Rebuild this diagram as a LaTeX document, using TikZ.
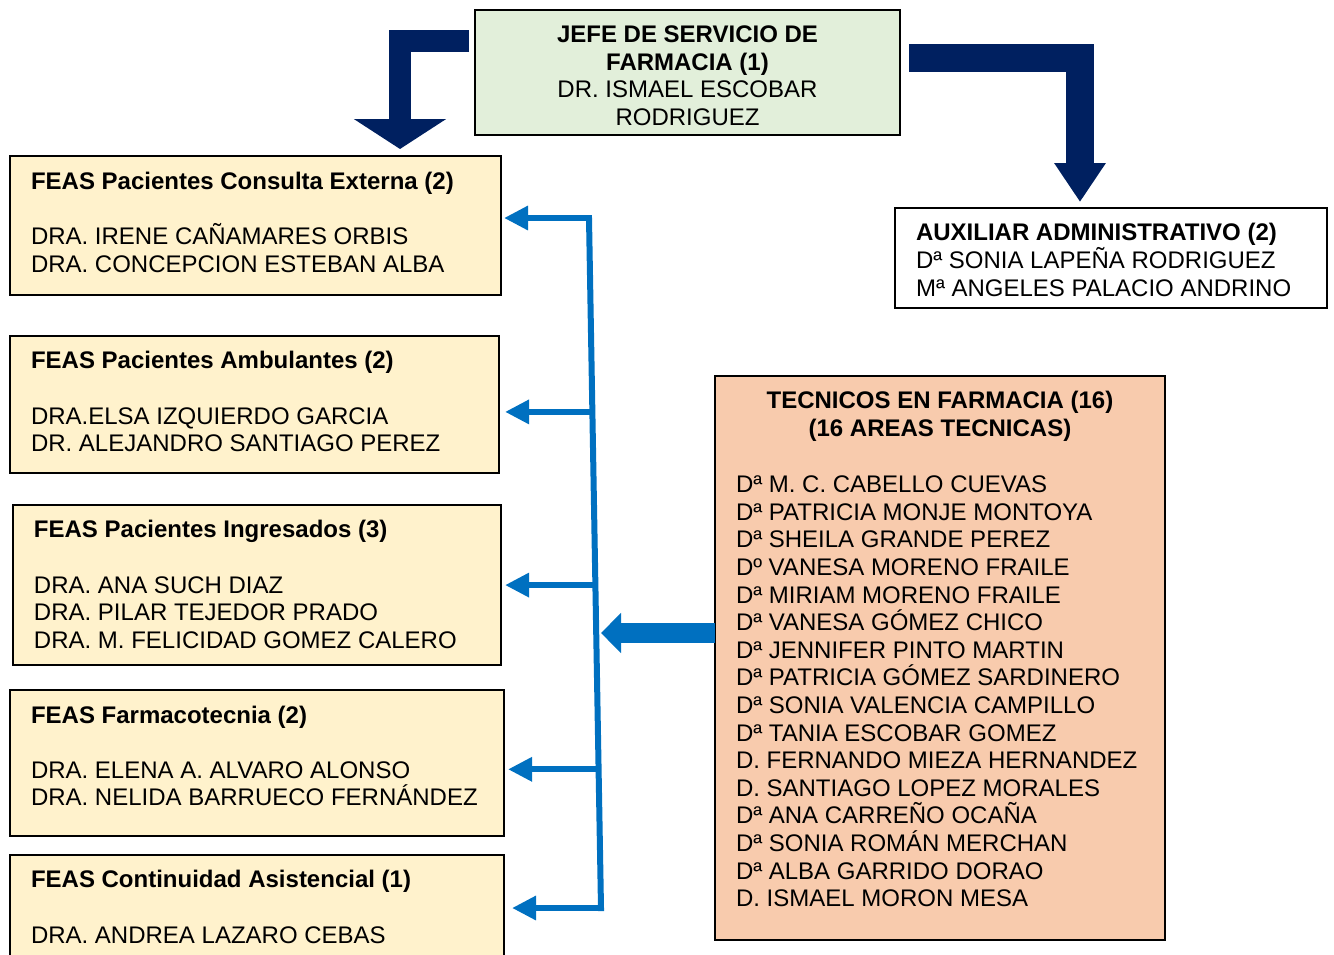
\documentclass[tikz,border=0pt]{standalone}
\usepackage{fontspec}
\setmainfont{Liberation Sans}
\usetikzlibrary{arrows.meta,calc}
\definecolor{navyc}{HTML}{002060}
\definecolor{bluec}{HTML}{0070C0}
\definecolor{greenbg}{HTML}{E2EFDA}
\definecolor{yellowbg}{HTML}{FFF2CC}
\definecolor{salmonbg}{HTML}{F8CBAD}
\begin{document}
\begin{tikzpicture}[x=1pt,y=-1pt,
  box/.style={draw=black,line width=1.4pt,rectangle,anchor=north west,inner sep=0pt,outer sep=0pt},
  txt/.style={inner sep=0pt,outer sep=0pt,anchor=west,text height=17.2pt,text depth=0pt,font=\fontsize{24}{27.6}\selectfont},
  ctxt/.style={txt,anchor=center},
  bold/.style={font=\fontsize{24}{27.6}\selectfont\bfseries},
  navyarrow/.style={draw=navyc,line join=miter},
  bluearrow/.style={draw=bluec,line width=6pt,-{Triangle[length=24pt,width=23pt]}},
]
\useasboundingbox (0,0) rectangle (1334,954);
\clip (0,0) rectangle (1334,954);
% boxes
\node[box,fill=greenbg,minimum width=425pt,minimum height=125pt] (jefe) at (475,10) {};
\node[box,fill=yellowbg,minimum width=491pt,minimum height=139pt] (feas1) at (10,156) {};
\node[box,fill=yellowbg,minimum width=489pt,minimum height=137pt] (feas2) at (10,336) {};
\node[box,fill=yellowbg,minimum width=488pt,minimum height=160pt] (feas3) at (13,505) {};
\node[box,fill=yellowbg,minimum width=494pt,minimum height=146pt] (feas4) at (10,690) {};
\node[box,fill=yellowbg,minimum width=494pt,minimum height=130pt] (feas5) at (10,855) {};
\node[box,fill=white,minimum width=432pt,minimum height=100pt] (aux) at (895,208) {};
\node[box,fill=salmonbg,minimum width=450pt,minimum height=564pt] (tec) at (715,376) {};
% jefe text
\node[ctxt,bold] (j1) at (687.5,34) {JEFE DE SERVICIO DE};
\node[ctxt,bold] (j2) at (687.5,61.6) {FARMACIA (1)};
\node[ctxt] (j3) at (687.5,89.2) {DR. ISMAEL ESCOBAR};
\node[ctxt] (j4) at (687.5,116.8) {RODRIGUEZ};
% feas texts
\node[txt,bold] (f1a) at (31,181) {FEAS Pacientes Consulta Externa (2)};
\node[txt] (f1b) at (31,236) {DRA. IRENE CAÑAMARES ORBIS};
\node[txt] (f1c) at (31,263.6) {DRA. CONCEPCION ESTEBAN ALBA};
\node[txt,bold] (f2a) at (31,360) {FEAS Pacientes Ambulantes (2)};
\node[txt] (f2b) at (31,415.5) {DRA.ELSA IZQUIERDO GARCIA};
\node[txt] (f2c) at (31,443) {DR. ALEJANDRO SANTIAGO PEREZ};
\node[txt,bold] (f3a) at (34,529) {FEAS Pacientes Ingresados (3)};
\node[txt] (f3b) at (34,584.5) {DRA. ANA SUCH DIAZ};
\node[txt] (f3c) at (34,612) {DRA. PILAR TEJEDOR PRADO};
\node[txt] (f3d) at (34,639.6) {DRA. M. FELICIDAD GOMEZ CALERO};
\node[txt,bold] (f4a) at (31,715) {FEAS Farmacotecnia (2)};
\node[txt] (f4b) at (31,770) {DRA. ELENA A. ALVARO ALONSO};
\node[txt] (f4c) at (31,797) {DRA. NELIDA BARRUECO FERNÁNDEZ};
\node[txt,bold] (f5a) at (31,879) {FEAS Continuidad Asistencial (1)};
\node[txt] (f5b) at (31,934.5) {DRA. ANDREA LAZARO CEBAS};
% aux text
\node[txt,bold] (a1) at (916,232) {AUXILIAR ADMINISTRATIVO (2)};
\node[txt] (a2) at (916,260) {Dª SONIA LAPEÑA RODRIGUEZ};
\node[txt] (a3) at (916,288) {Mª ANGELES PALACIO ANDRINO};
% tecnicos
\node[ctxt,bold] (t0a) at (940,400) {TECNICOS EN FARMACIA (16)};
\node[ctxt,bold] (t0b) at (940,428) {(16 AREAS TECNICAS)};
\foreach \n [count=\i] in {Dª M. C. CABELLO CUEVAS,Dª PATRICIA MONJE MONTOYA,Dª SHEILA GRANDE PEREZ,Dº VANESA MORENO FRAILE,Dª MIRIAM MORENO FRAILE,Dª VANESA GÓMEZ CHICO,Dª JENNIFER PINTO MARTIN,Dª PATRICIA GÓMEZ SARDINERO,Dª SONIA VALENCIA CAMPILLO,Dª TANIA ESCOBAR GOMEZ,D. FERNANDO MIEZA HERNANDEZ,D. SANTIAGO LOPEZ MORALES,Dª ANA CARREÑO OCAÑA,Dª SONIA ROMÁN MERCHAN,Dª ALBA GARRIDO DORAO,D. ISMAEL MORON MESA}
  \node[txt] (t\i) at (736,{484+27.6*(\i-1)}) {\n};
% navy bent arrows
\coordinate (ltip) at (400,149);
\coordinate (rtip) at (1080,202);
\draw[navyarrow,line width=22pt,-{Triangle[length=30pt,width=91pt]}] ($(jefe.west |- 0,41)+(-6,0)$) -| (ltip);
\draw[navyarrow,line width=28pt,-{Triangle[length=39pt,width=49pt]}] ($(jefe.east |- 0,57.5)+(9,0)$) -| (rtip);
% blue bracket
\coordinate (s1) at (589,218);
\coordinate (s5) at (601,908);
\draw[bluec,line width=6pt,line join=miter] ($(s1)+(-3,0)$) -- (s1) -- (s5) -- ($(s5)+(-3,0)$);
\draw[bluearrow,shorten >=3pt] (s1) -- (feas1.east |- s1);
\coordinate (s2) at ($(s1)!0.281!(s5)$);
\coordinate (s3) at ($(s1)!0.532!(s5)$);
\coordinate (s4) at ($(s1)!0.799!(s5)$);
\draw[bluearrow,shorten >=6pt] (s2) -- (feas2.east |- s2);
\draw[bluearrow,shorten >=4pt] (s3) -- (feas3.east |- s3);
\draw[bluearrow,shorten >=4pt] (s4) -- (feas4.east |- s4);
\draw[bluearrow,shorten >=8pt] (s5) -- (feas5.east |- s5);
% big arrow from tecnicos
\coordinate (bigtip) at (601,633);
\draw[draw=bluec,line width=20pt,-{Triangle[length=20pt,width=39pt]}] (tec.west |- bigtip) -- (bigtip);
\end{tikzpicture}
\end{document}
